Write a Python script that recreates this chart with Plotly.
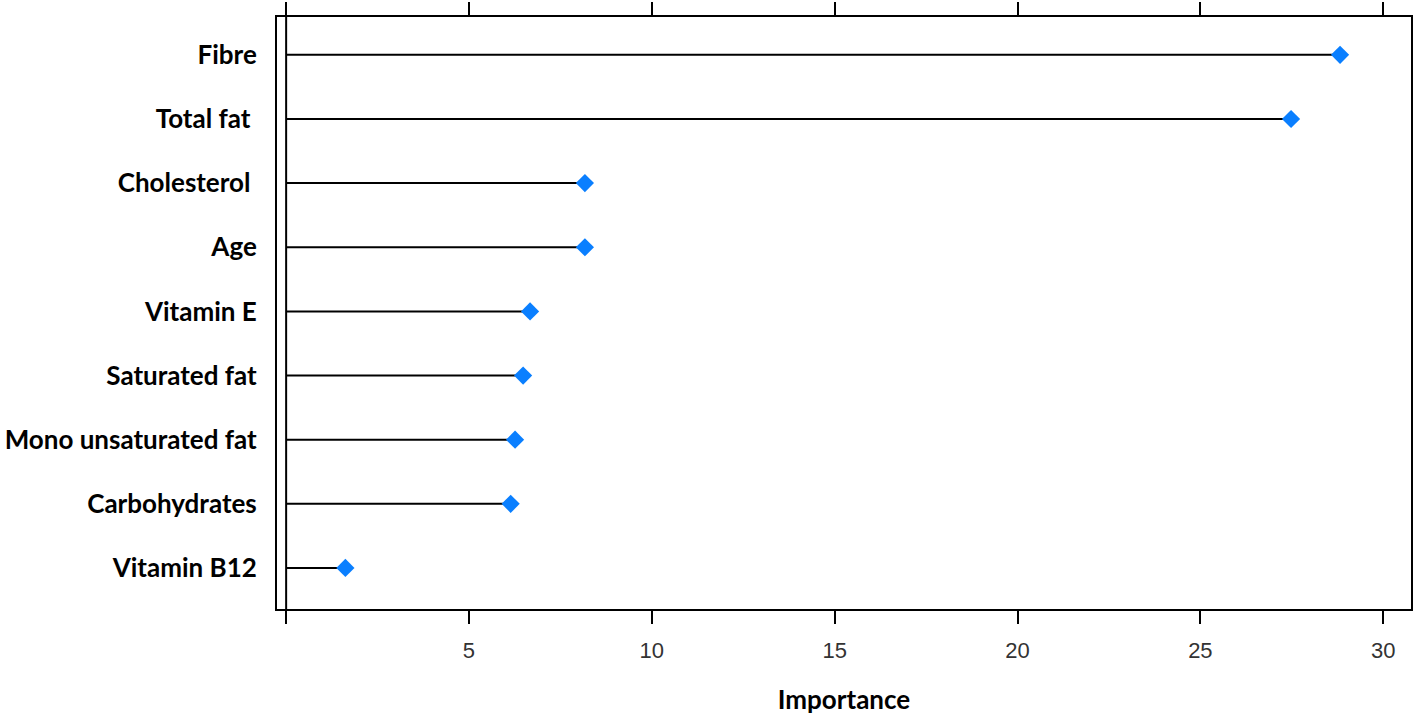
import plotly.graph_objects as go

categories = ["Fibre", "Total fat ", "Cholesterol ", "Age", "Vitamin E", "Saturated fat",
              "Mono unsaturated fat", "Carbohydrates", "Vitamin B12"]
importance = [28.82, 27.48, 8.17, 8.17, 6.67, 6.48, 6.26, 6.14, 1.62]
tick_values = [0, 5, 10, 15, 20, 25, 30]
tick_labels = ["", "5", "10", "15", "20", "25", "30"]

order = categories[::-1]

line_x, line_y = [], []
for c, v in zip(categories, importance):
    line_x += [0, v, None]
    line_y += [c, c, None]

fig = go.Figure()
fig.add_trace(go.Scatter(x=line_x, y=line_y, mode="lines",
                         line=dict(color="black", width=2), hoverinfo="skip", showlegend=False))
fig.add_trace(go.Scatter(x=importance, y=categories, mode="markers",
                         marker=dict(symbol="diamond", size=14, color="#0A7FFF",
                                     line=dict(width=0)), showlegend=False))

fig.add_shape(type="line", xref="x", yref="paper", x0=0, x1=0, y0=0, y1=1,
              line=dict(color="black", width=2))

fig.update_layout(
    width=1416, height=716,
    margin=dict(l=277, r=5, t=17, b=107),
    paper_bgcolor="white", plot_bgcolor="white",
    xaxis=dict(range=[-0.25, 30.76], tickvals=tick_values, ticktext=tick_labels,
               ticks="outside", ticklen=13, tickwidth=2, tickcolor="black",
               showline=True, linecolor="black", linewidth=2, mirror="ticks",
               showgrid=False, zeroline=False, automargin=False,
               ticklabelstandoff=8,
               tickfont=dict(family="Liberation Sans", size=22, color="#333333"),
               title=dict(text="<b>Importance</b>", standoff=28,
                          font=dict(family="Lato", size=26, color="black"))),
    yaxis=dict(categoryorder="array", categoryarray=order, type="category",
               range=[-0.64, 8.59], showline=True, linecolor="black", linewidth=2,
               mirror=True, showgrid=False, zeroline=False, ticks="",
               ticklabelstandoff=13, automargin=False,
               tickfont=dict(family="Lato", size=26, color="black", weight="bold")),
)

fig.write_html("out.html", config={"displayModeBar": False},
               post_script="document.body.style.margin='0';document.body.style.overflow='hidden';")
